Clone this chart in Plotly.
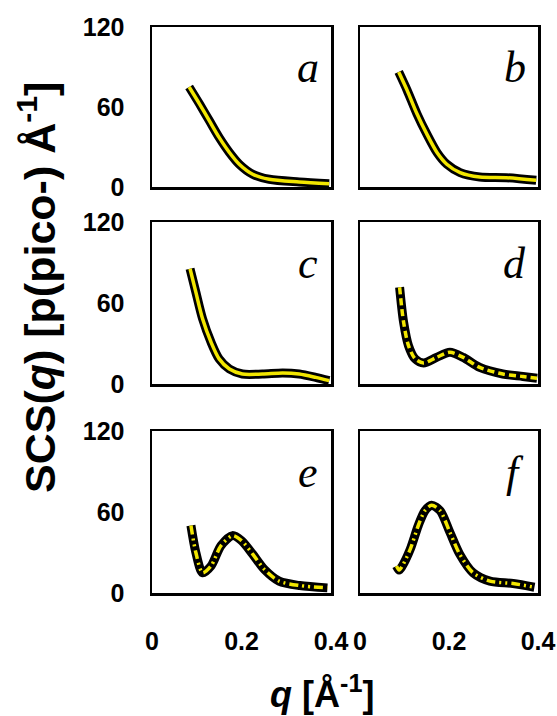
import plotly.graph_objects as go

# ---- data ----
q_a = [0.083, 0.106, 0.128, 0.150, 0.173, 0.195, 0.225, 0.262, 0.329, 0.396]
s_a = [75.0, 62.4, 49.8, 37.2, 25.9, 17.1, 9.6, 5.8, 3.8, 2.5]

q_b = [0.087, 0.106, 0.128, 0.150, 0.173, 0.195, 0.225, 0.269, 0.329, 0.396]
s_b = [86.3, 72.5, 54.9, 39.8, 25.9, 17.1, 10.8, 7.5, 7.0, 5.0]

q_c = [0.085, 0.098, 0.113, 0.132, 0.150, 0.173, 0.202, 0.247, 0.292, 0.329, 0.366, 0.396]
s_c = [85.4, 68.0, 48.3, 30.9, 18.6, 11.1, 7.4, 7.4, 8.2, 7.4, 4.9, 2.5]

q_d = [0.089, 0.098, 0.109, 0.124, 0.143, 0.172, 0.202, 0.232, 0.269, 0.321, 0.366, 0.398]
s_d = [71.7, 45.7, 28.4, 18.6, 15.6, 19.7, 23.5, 19.7, 12.3, 7.4, 5.6, 4.2]

q_e = [0.087, 0.098, 0.113, 0.132, 0.154, 0.180, 0.200, 0.225, 0.251, 0.284, 0.330, 0.392]
s_e = [50.0, 30.0, 15.0, 20.0, 35.0, 42.5, 38.8, 28.8, 17.5, 8.8, 5.5, 3.8]

q_f = [0.082, 0.088, 0.095, 0.113, 0.131, 0.146, 0.161, 0.180, 0.202, 0.224, 0.254, 0.292, 0.344, 0.392]
s_f = [20.0, 17.0, 20.0, 32.5, 50.0, 61.0, 65.0, 61.0, 45.0, 28.8, 15.0, 8.8, 7.0, 4.3]

panel_labels = ["a", "b", "c", "d", "e", "f"]
x_ticks = [0, 0.2, 0.4]
x_ticktext = ["0", "0.2", "0.4"]
y_ticks = [0, 60, 120]
y_ticktext = ["0", "60", "120"]

series = [(q_a, s_a), (q_b, s_b), (q_c, s_c), (q_d, s_d), (q_e, s_e), (q_f, s_f)]
dashes = ["solid", "solid", "solid", "7px,4px", "9px,4px,2px,4px,2px,4px", "9px,4px,2px,4px,2px,4px"]

W, H = 557, 716
col_dom = [[152 / W, 331 / W], [360 / W, 538 / W]]
row_px = [(27, 187), (222, 384), (431, 593)]
row_dom = [[1 - b / H, 1 - t / H] for t, b in row_px]

YELLOW = "#f2e600"
tick_font = dict(family="Liberation Sans Narrow, Arial Narrow, Liberation Sans, Arial", size=25, color="black", weight="bold")

fig = go.Figure()
layout = dict(
    width=W, height=H, margin=dict(l=0, r=0, t=0, b=0, autoexpand=False),
    paper_bgcolor="white", plot_bgcolor="white", showlegend=False,
)
annotations = []

for i, ((qx, sy), lab, dash) in enumerate(zip(series, panel_labels, dashes)):
    r, c = divmod(i, 2)
    n = i + 1
    xa = "x" if n == 1 else f"x{n}"
    ya = "y" if n == 1 else f"y{n}"
    fig.add_trace(go.Scatter(x=qx, y=sy, xaxis=xa, yaxis=ya, mode="lines",
                             line=dict(color="black", width=9, shape="spline", smoothing=0.8),
                             hoverinfo="skip"))
    fig.add_trace(go.Scatter(x=qx, y=sy, xaxis=xa, yaxis=ya, mode="lines",
                             line=dict(color=YELLOW, width=3.5, shape="spline", smoothing=0.8, dash=dash),
                             hoverinfo="skip"))
    xkey = "xaxis" if n == 1 else f"xaxis{n}"
    ykey = "yaxis" if n == 1 else f"yaxis{n}"
    layout[xkey] = dict(
        domain=col_dom[c], anchor=ya, range=[0, 0.4], automargin=False,
        showline=True, linecolor="black", linewidth=2.5, mirror=True,
        showgrid=False, zeroline=False, ticks="",
        tickvals=x_ticks, ticktext=x_ticktext,
        showticklabels=(r == 2), tickfont=tick_font, ticklabelstandoff=24,
    )
    layout[ykey] = dict(
        domain=row_dom[r], anchor=xa, range=[0, 120], automargin=False,
        showline=True, linecolor="black", linewidth=2.5, mirror=True,
        showgrid=False, zeroline=False, ticks="",
        tickvals=y_ticks, ticktext=y_ticktext,
        showticklabels=(c == 0), tickfont=tick_font, ticklabelstandoff=20,
    )
    annotations.append(dict(
        text=f"<i>{lab}</i>", xref=f"{xa} domain", yref=f"{ya} domain",
        x=0.87, y=0.745, xanchor="center", yanchor="middle", showarrow=False,
        font=dict(family="Liberation Serif, Times New Roman, serif", size=44, color="black"),
    ))

annotations.append(dict(
    text="<b>SCS(<i>q</i>) [p(pico-) Å<sup>-1</sup>]</b>", xref="paper", yref="paper",
    x=37 / W, y=1 - 288 / H, textangle=-90, showarrow=False,
    xanchor="center", yanchor="middle",
    font=dict(family="Liberation Sans, Arial", size=43, color="black"),
))
annotations.append(dict(
    text="<b><i>q</i> [Å<sup>-1</sup>]</b>", xref="paper", yref="paper",
    x=322 / W, y=1 - 692 / H, showarrow=False,
    xanchor="center", yanchor="middle",
    font=dict(family="Liberation Sans, Arial", size=36, color="black"),
))
layout["annotations"] = annotations
fig.update_layout(**layout)
fig.write_html(
    "out.html",
    config={"displayModeBar": False, "staticPlot": True},
    post_script="document.body.style.margin='0';document.body.style.overflow='hidden';"
                "document.documentElement.style.overflow='hidden';",
)
